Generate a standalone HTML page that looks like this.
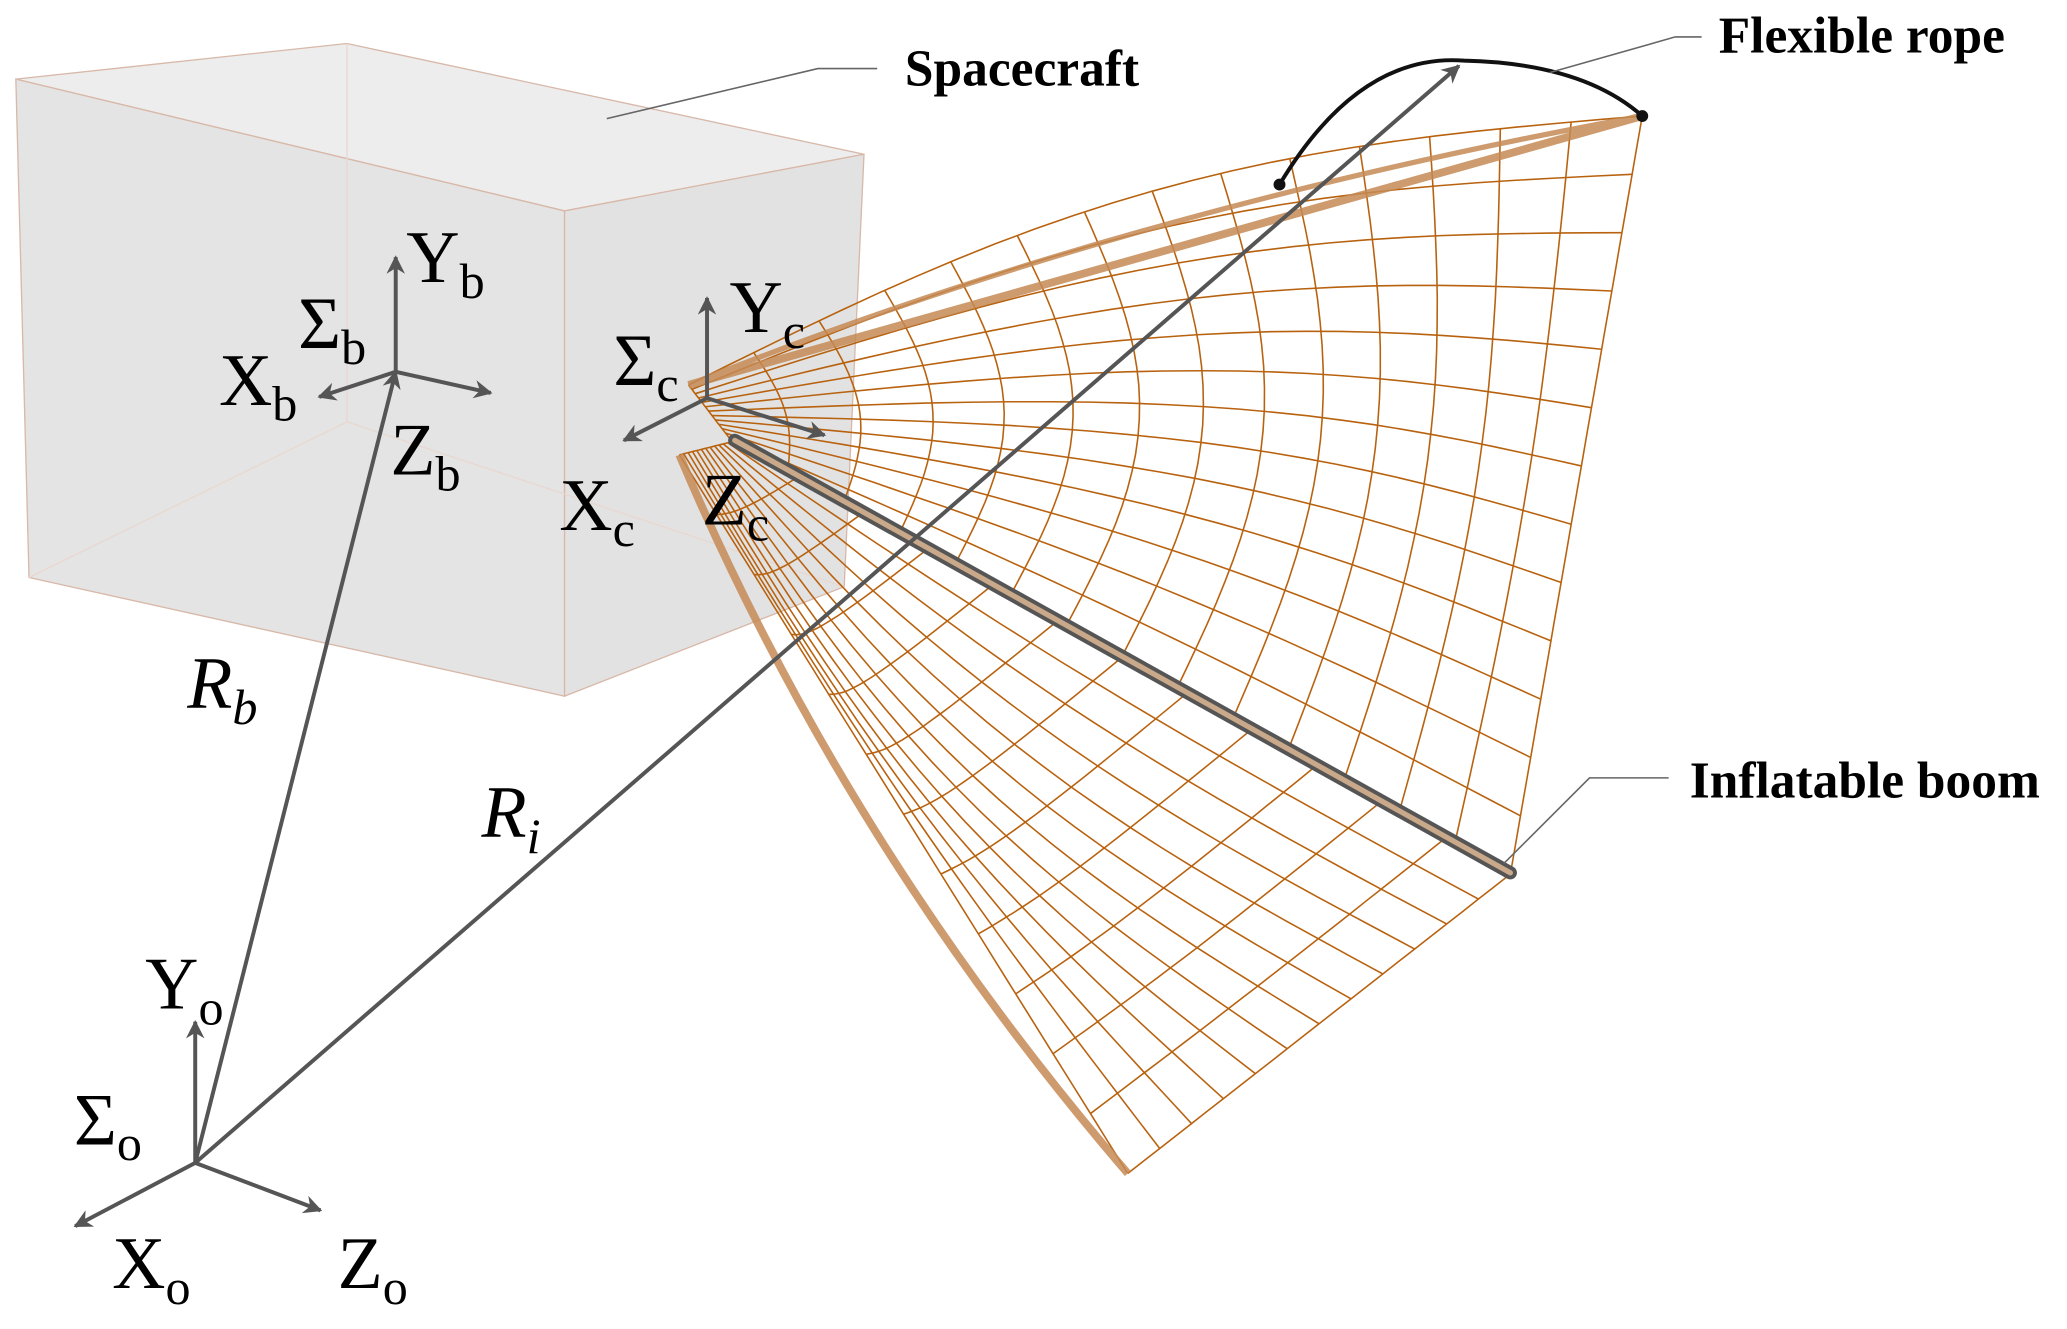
<!DOCTYPE html>
<html><head><meta charset="utf-8"><style>
html,body{margin:0;padding:0;background:#fff;}
svg{display:block;}
text{font-family:"Liberation Serif",serif;fill:#000;}
.b{font-weight:bold;font-size:39px;}
</style></head><body>
<svg id="s" width="2067" height="1329" viewBox="0 0 1567 1008" preserveAspectRatio="none" xmlns="http://www.w3.org/2000/svg">
<defs>
<marker id="a2" viewBox="0 0 10 10" markerWidth="18" markerHeight="14" refX="9" refY="5" orient="auto" markerUnits="userSpaceOnUse"><path d="M0,0 L10,5 L0,10 L3,5z" fill="#555"/></marker></defs>
<polygon points="12,60 263,33 655,117 428,160" fill="#ededed" stroke="#d8b8a8" stroke-width="1"/>
<polygon points="12,60 428,160 428,528 22,438" fill="#e4e4e4" stroke="#d8b8a8" stroke-width="1"/>
<polygon points="428,160 655,117 640,445 428,528" fill="#e2e2e2" stroke="#d8b8a8" stroke-width="1"/>
<polyline points="263,33 263,320 22,438" fill="none" stroke="#e8d8d0"/>
<line x1="263" y1="320" x2="640" y2="445" stroke="#e8d8d0"/>
<g id="mesh" fill="none" stroke="#b8620f" stroke-width="1.2"></g>
<g id="band" fill="none" stroke="#c58a55" stroke-width="6" opacity="0.85"></g>
<line x1="557" y1="334" x2="1145" y2="662" stroke="#555" stroke-width="10" stroke-linecap="round"/>
<line x1="557" y1="334" x2="1145" y2="662" stroke="#c9a98a" stroke-width="4" stroke-linecap="round"/>
<path d="M970,140 Q1030,40 1110,46 Q1200,48 1245,88" fill="none" stroke="#111" stroke-width="3"/>
<circle cx="970" cy="140" r="4.5" fill="#111"/><circle cx="1245" cy="88" r="4.5" fill="#111"/>
<line x1="148" y1="882" x2="300" y2="282" stroke="#555" stroke-width="3" marker-end="url(#a2)"/>
<line x1="148" y1="882" x2="1106" y2="50" stroke="#555" stroke-width="3" marker-end="url(#a2)"/>
<g stroke="#555" stroke-width="3" marker-end="url(#a2)">
<line x1="148" y1="882" x2="148" y2="775"/><line x1="148" y1="882" x2="57" y2="930"/><line x1="148" y1="882" x2="243" y2="918"/>
<line x1="300" y1="282" x2="300" y2="195"/><line x1="300" y1="282" x2="242" y2="301"/><line x1="300" y1="282" x2="372" y2="298"/>
<line x1="536" y1="302" x2="536" y2="226"/><line x1="536" y1="302" x2="473" y2="334"/><line x1="536" y1="302" x2="625" y2="330"/>
</g>
<g font-size="56">
<text x="308" y="214">Y<tspan font-size="38" dy="12">b</tspan></text>
<text x="226" y="264">Σ<tspan font-size="38" dy="12">b</tspan></text>
<text x="166" y="307">X<tspan font-size="38" dy="12">b</tspan></text>
<text x="296" y="360">Z<tspan font-size="38" dy="12">b</tspan></text>
<text x="553" y="252">Y<tspan font-size="38" dy="12">c</tspan></text>
<text x="465" y="292">Σ<tspan font-size="38" dy="12">c</tspan></text>
<text x="424" y="402">X<tspan font-size="38" dy="12">c</tspan></text>
<text x="532" y="398">Z<tspan font-size="38" dy="12">c</tspan></text>
<text x="110" y="765">Y<tspan font-size="38" dy="12">o</tspan></text>
<text x="56" y="868">Σ<tspan font-size="38" dy="12">o</tspan></text>
<text x="85" y="977">X<tspan font-size="38" dy="12">o</tspan></text>
<text x="256" y="977">Z<tspan font-size="38" dy="12">o</tspan></text>
<text x="142" y="537" font-style="italic">R<tspan font-size="38" dy="12">b</tspan></text>
<text x="365" y="635" font-style="italic">R<tspan font-size="38" dy="12">i</tspan></text>
</g>
<g stroke="#666" stroke-width="1.2" fill="none">
<polyline points="460,90 620,52 665,52"/>
<polyline points="1175,55 1270,28 1290,28"/>
<polyline points="1140,655 1205,590 1265,590"/>
</g>
<text class="b" x="686" y="65">Spacecraft</text>
<text class="b" x="1303" y="40">Flexible rope</text>
<text class="b" x="1281" y="605">Inflatable boom</text>
</svg>
<script>
(function(){
var g=document.getElementById('mesh'),out='',band='';
function patch(P00,P10,P01,P11,nu,nv,bx,by,tx,ty){
 function pt(u,v){var x=(1-u)*(1-v)*P00[0]+u*(1-v)*P10[0]+(1-u)*v*P01[0]+u*v*P11[0];
  var y=(1-u)*(1-v)*P00[1]+u*(1-v)*P10[1]+(1-u)*v*P01[1]+u*v*P11[1];
  var s=Math.sin(Math.PI*u)*Math.sin(Math.PI*v);var t=(1-v)*Math.sin(Math.PI*u);
  return [x+bx*s+tx*t,y+by*s+ty*t];}
 function line(f){var d='M';for(var k=0;k<=24;k++){var p=f(k/24);d+=p[0].toFixed(1)+','+p[1].toFixed(1)+' ';}return '<path d="'+d+'"/>';}
 for(var i=0;i<=nu;i++){out+=line(function(t){return pt(i/nu,t);});}
 for(var j=0;j<=nv;j++){out+=line(function(t){return pt(t,j/nv);});}
}
patch([522,292],[1245,88],[555,335],[1145,663],14,13,50,0,-10,-45);
patch([555,335],[1145,663],[515,345],[855,890],12,12,-30,30,0,0);
band+='<path d="M522,292 L1245,88"/><path d="M522,292 Q850,160 1245,88" stroke-width="4"/>';
band+='<path d="M515,345 Q640,640 855,890"/>';
g.innerHTML=out;
document.getElementById('band').innerHTML=band;
})();
</script>
</body></html>
